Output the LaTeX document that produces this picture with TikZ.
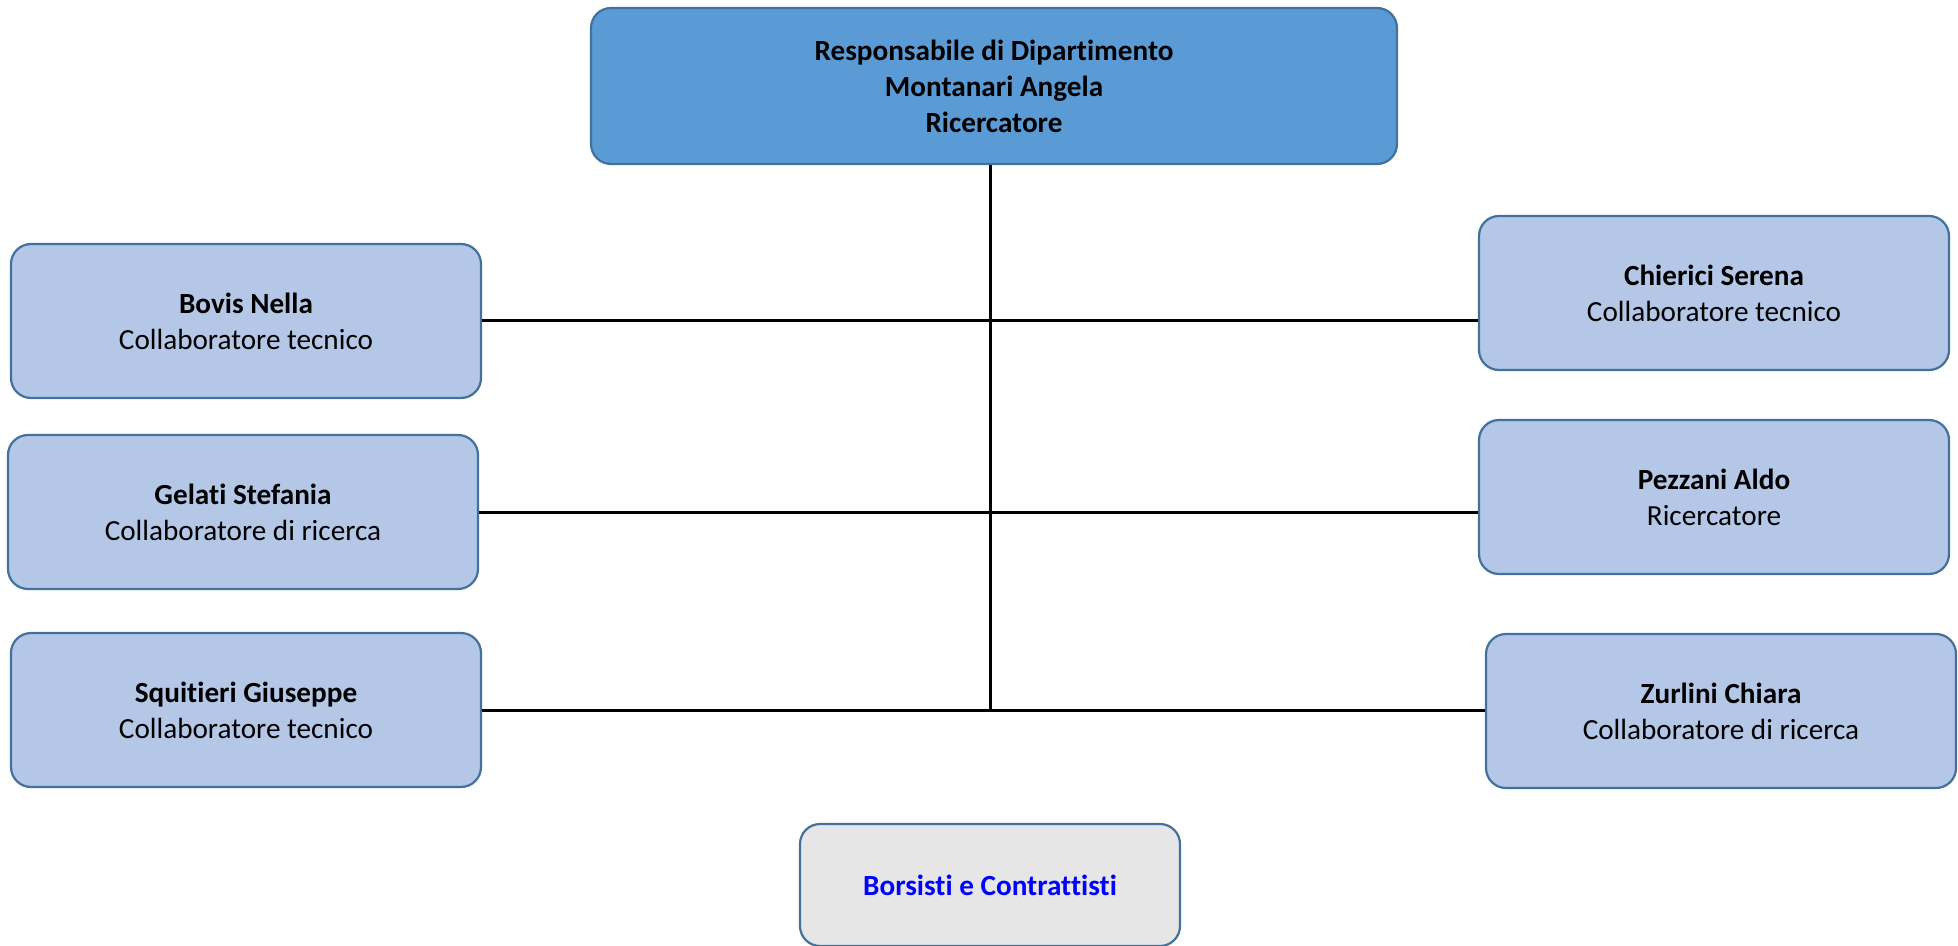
\documentclass[tikz,border=0pt]{standalone}
\usepackage{fontspec}
\setmainfont[Ligatures={NoCommon}]{Carlito}
\usepackage{tikz}
\usetikzlibrary{positioning}
\definecolor{headblue}{HTML}{5B9BD5}
\definecolor{boxblue}{HTML}{B4C7E7}
\definecolor{boxedge}{HTML}{41719C}
\definecolor{boxgray}{HTML}{E6E6E6}
\tikzset{
person/.style={rectangle,rounded corners=10pt,draw=boxedge,line width=1.1pt,fill=boxblue,minimum width=235pt,minimum height=77pt,inner sep=0pt,align=center,font=\fontsize{14.6}{18}\selectfont},
head/.style={person,fill=headblue,minimum width=403pt,minimum height=78pt},
extra/.style={person,fill=boxgray,minimum width=190pt,minimum height=61pt,text=blue},
link/.style={draw=black,line width=1.5pt}
}

\begin{document}
\begin{tikzpicture}[x=0.5pt,y=-0.5pt]
\useasboundingbox (0,0) rectangle (1958,946);
\node at (994,86)[head](resp){\textbf{Responsabile di Dipartimento}\\\textbf{Montanari Angela}\\\textbf{Ricercatore}};
\node at (246,321)[person](bovis){\textbf{Bovis Nella}\\Collaboratore tecnico};
\node at (243,512)[person](gelati){\textbf{Gelati Stefania}\\Collaboratore di ricerca};
\node at (246,710)[person](squitieri){\textbf{Squitieri Giuseppe}\\Collaboratore tecnico};
\node at (1714,293)[person](chierici){\textbf{Chierici Serena}\\Collaboratore tecnico};
\node at (1714,497)[person](pezzani){\textbf{Pezzani Aldo}\\Ricercatore};
\node at (1721,711)[person](zurlini){\textbf{Zurlini Chiara}\\Collaboratore di ricerca};
\node at (990,885)[extra](borsisti){\textbf{Borsisti e Contrattisti}};
\coordinate (spine) at (990,710);
\draw[link] (resp.south -| spine) -- (spine);
\draw[link] (bovis.east) -- (bovis.east -| chierici.west);
\draw[link] (gelati.east) -- (gelati.east -| pezzani.west);
\draw[link] (squitieri.east) -- (squitieri.east -| zurlini.west);
\end{tikzpicture}
\end{document}
